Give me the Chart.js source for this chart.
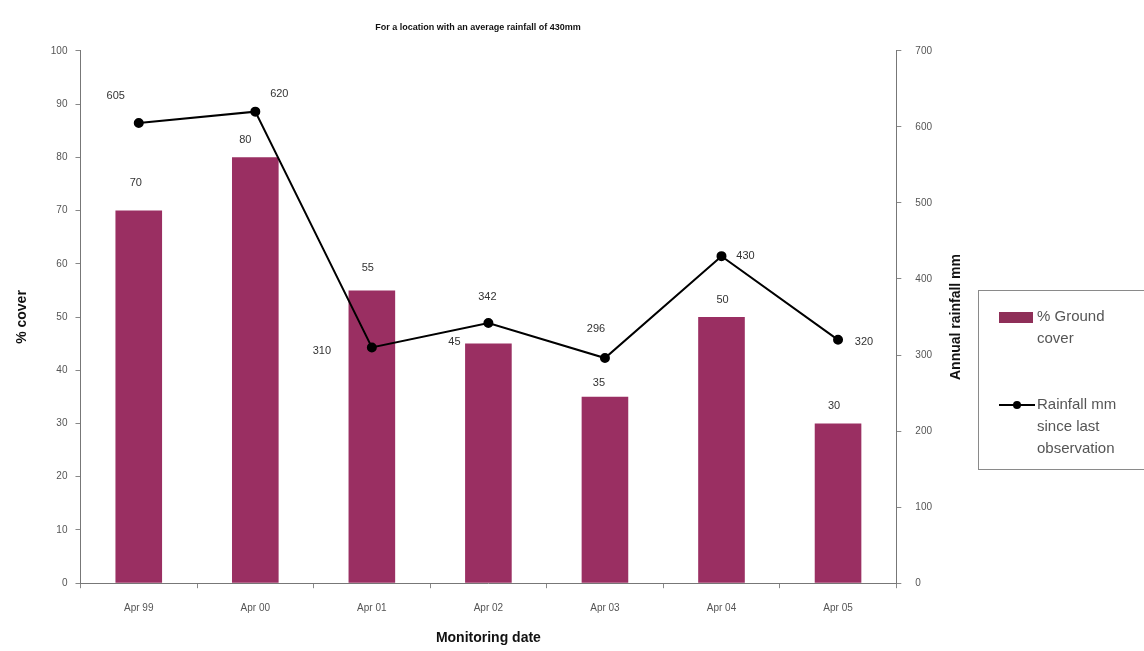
<!DOCTYPE html>
<html>
<head>
<meta charset="utf-8">
<title>Ground cover and rainfall</title>
<script src="https://cdn.jsdelivr.net/npm/chart.js@4"></script>
<style>
  body { margin: 0; background: #fff; font-family: "Liberation Sans", Arial, sans-serif; }
  #wrap { position: relative; width: 1144px; height: 651px; }
  #legend {
    position: absolute; left: 978px; top: 290px; width: 170px; height: 180px;
    border: 1px solid #8a8a8a; box-sizing: border-box; color: #555; font-size: 15px; line-height: 22px;
  }
  .item { position: absolute; left: 20px; }
  .sw { position: absolute; left: 0; }
  .txt { position: absolute; left: 38px; width: 125px; }
</style>
</head>
<body>
<div id="wrap">
  <canvas id="chart" width="1144" height="651"></canvas>
  <div id="legend">
    <div class="item" style="top:14px">
      <div class="sw" style="top:7px;width:34px;height:11px;background:#8e2f58"></div>
      <div class="txt">% Ground<br>cover</div>
    </div>
    <div class="item" style="top:102px">
      <svg class="sw" style="top:5px" width="36" height="14"><line x1="0" y1="7" x2="36" y2="7" stroke="#000" stroke-width="2"/><circle cx="18" cy="7" r="4" fill="#000"/></svg>
      <div class="txt">Rainfall mm<br>since last<br>observation</div>
    </div>
  </div>
</div>
<script>
const dates = ["Apr 99", "Apr 00", "Apr 01", "Apr 02", "Apr 03", "Apr 04", "Apr 05"];
const groundCover = [70, 80, 55, 45, 35, 50, 30];
const rainfall = [605, 620, 310, 342, 296, 430, 320];

// label nudges (px) so the numbers sit where they read best
const barLabelOffset = [[-3, -28], [-10, -17], [-4, -22], [-34, -2], [-6, -14], [1, -17], [-4, -18]];
const lineLabelOffset = [[-23, -27], [24, -18], [-50, 4], [-1, -26], [-9, -29], [24, 0], [26, 2]];

const fontFamily = "'Liberation Sans', Arial, sans-serif";

const valueLabels = {
  id: "valueLabels",
  afterDatasetsDraw(chart) {
    const c = chart.ctx;
    c.save();
    c.font = "11px " + fontFamily;
    c.fillStyle = "#333";
    c.textAlign = "center";
    c.textBaseline = "middle";
    chart.getDatasetMeta(0).data.forEach((bar, i) => {
      const o = barLabelOffset[i];
      c.fillText(groundCover[i], bar.x + o[0], bar.y + o[1]);
    });
    chart.getDatasetMeta(1).data.forEach((pt, i) => {
      const o = lineLabelOffset[i];
      c.fillText(rainfall[i], pt.x + o[0], pt.y + o[1]);
    });
    c.restore();
  }
};

// right axis title reads bottom-to-top, like the left one
const rightTitle = {
  id: "rightTitle",
  afterDraw(chart) {
    const c = chart.ctx;
    const s = chart.scales.y1;
    c.save();
    c.translate(s.right + 10, (chart.chartArea.top + chart.chartArea.bottom) / 2);
    c.rotate(-Math.PI / 2);
    c.font = "bold 14px " + fontFamily;
    c.fillStyle = "#111";
    c.textAlign = "center";
    c.textBaseline = "middle";
    c.fillText("Annual rainfall mm", 0, 0);
    c.restore();
  }
};

const font = { family: fontFamily };

new Chart(document.getElementById("chart"), {
  type: "bar",
  data: {
    labels: dates,
    datasets: [
      {
        label: "% Ground cover",
        data: groundCover,
        backgroundColor: "#9a2f62",
        barPercentage: 0.4,
        categoryPercentage: 1,
        yAxisID: "y",
        order: 2,
      },
      {
        type: "line",
        label: "Rainfall mm since last observation",
        data: rainfall,
        borderColor: "#000",
        backgroundColor: "#000",
        borderWidth: 2,
        pointRadius: 4,
        pointBackgroundColor: "#000",
        tension: 0,
        yAxisID: "y1",
        order: 1,
      },
    ],
  },
  options: {
    responsive: false,
    animation: false,
    layout: { padding: { top: 10, right: 198, left: 10, bottom: 0 } },
    plugins: {
      legend: { display: false },
      tooltip: { enabled: false },
      title: {
        display: true,
        text: "For a location with an average rainfall of 430mm",
        font: { ...font, size: 9, weight: "bold" },
        color: "#111",
        padding: { top: 12, bottom: 18 },
      },
    },
    scales: {
      x: {
        grid: { display: true, drawOnChartArea: false, offset: true, tickLength: 5, color: "#888" },
        border: { color: "#777" },
        ticks: { color: "#555", font: { ...font, size: 10 }, padding: 14, maxRotation: 0 },
        title: { display: true, text: "Monitoring date", color: "#111", font: { ...font, size: 14, weight: "bold" }, padding: { top: 2 } },
      },
      y: {
        position: "left",
        min: 0,
        max: 100,
        ticks: { stepSize: 10, color: "#555", font: { ...font, size: 10 }, padding: 8 },
        grid: { drawOnChartArea: false, tickLength: 5, color: "#888" },
        border: { color: "#777" },
        title: { display: true, text: "% cover", color: "#111", font: { ...font, size: 14, weight: "bold" }, padding: { bottom: 12 } },
      },
      y1: {
        position: "right",
        min: 0,
        max: 700,
        ticks: { stepSize: 100, color: "#555", font: { ...font, size: 10 }, padding: 14 },
        grid: { drawOnChartArea: false, tickLength: 5, color: "#888" },
        border: { color: "#777" },
      },
    },
  },
  plugins: [valueLabels, rightTitle],
});
</script>
</body>
</html>
